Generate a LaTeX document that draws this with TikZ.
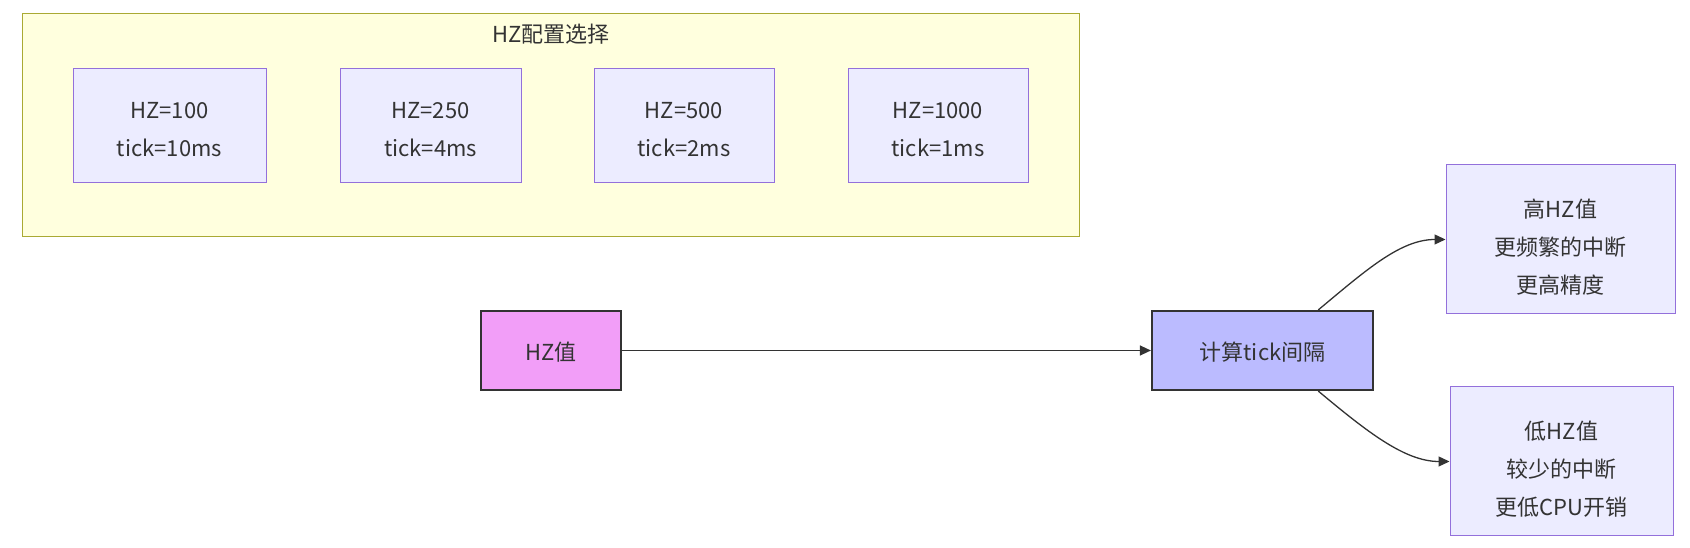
\documentclass[tikz,border=0pt]{standalone}
\usepackage{fontspec}
\setmainfont{Noto Sans CJK SC}
\usepackage{xcolor}
\usepackage{tikz}
\usetikzlibrary{calc, arrows.meta, positioning}
\definecolor{clusterfill}{HTML}{FFFFDE}
\definecolor{clusterline}{HTML}{AAAA33}
\definecolor{boxfill}{HTML}{ECECFF}
\definecolor{boxline}{HTML}{9370DB}
\definecolor{hzfill}{HTML}{F29EF8}
\definecolor{calcfill}{HTML}{BBBBFF}
\definecolor{darkline}{HTML}{333333}
\newcommand{\lift}[1]{\rule{0pt}{#1}}
\tikzset{
    clusternode/.style = {draw=clusterline, fill=clusterfill, rectangle, line width=1pt, inner sep=0pt},
    textnode/.style = {draw=none, fill=none, rectangle, inner sep=0pt, node distance=0pt,
      text=darkline, font=\fontsize{22pt}{38pt}\selectfont},
    boxnode/.style = {draw=boxline, fill=boxfill, rectangle, line width=1pt, inner sep=0pt,
      node distance=0pt, text=darkline, align=center, font=\fontsize{22pt}{38pt}\selectfont},
    keynode/.style = {draw=darkline, rectangle, line width=2.2pt, inner sep=0pt, node distance=0pt,
      minimum height=79pt, text=darkline, font=\fontsize{22pt}{38pt}\selectfont},
    connect/.style = {darkline, line width=1.3pt, -{Triangle[length=11pt, width=10pt]}}
}

\begin{document}
\begin{tikzpicture}
\useasboundingbox (0pt,0pt) rectangle (1690pt,548pt);

% HZ options
\node[clusternode, name=cluster, minimum width=1057pt, minimum height=223pt] at (551pt,422.5pt) {};
\node[textnode, name=title] at (551pt,513.5pt) {HZ配置选择};
\node[boxnode, name=hz100, minimum width=193pt, minimum height=114pt] at (169.5pt,422pt) {\lift{23pt}HZ=100\\tick=10ms};
\node[boxnode, name=hz250, right of=hz100, xshift=261pt, minimum width=181pt, minimum height=114pt] {\lift{23pt}HZ=250\\tick=4ms};
\node[boxnode, name=hz500, right of=hz250, xshift=253.5pt, minimum width=180pt, minimum height=114pt] {\lift{23pt}HZ=500\\tick=2ms};
\node[boxnode, name=hz1000, right of=hz500, xshift=254pt, minimum width=180pt, minimum height=114pt] {\lift{23pt}HZ=1000\\tick=1ms};

% flow
\node[keynode, name=hzval, fill=hzfill, minimum width=140pt] at (551pt,197.5pt) {\lift{22.5pt}HZ值};
\node[keynode, name=calc, fill=calcfill, right of=hzval, xshift=711.5pt, minimum width=221pt] {\lift{22.5pt}计算tick间隔};
\node[boxnode, name=high, minimum width=229pt, minimum height=149pt] at (1560.5pt,308.5pt) {\lift{33pt}高HZ值\\更频繁的中断\\更高精度};
\node[boxnode, name=low, minimum width=223pt, minimum height=149pt] at (1561.5pt,86.5pt) {\lift{33pt}低HZ值\\较少的中断\\更低CPU开销};

\draw[connect] (hzval.east) -- (calc.west);
\draw[connect] ($(calc.north)!0.5!(calc.north east)$) .. controls +(48pt,40pt) and +(-45pt,0pt) .. (high.west);
\draw[connect] ($(calc.south)!0.5!(calc.south east)$) .. controls +(48pt,-40pt) and +(-45pt,0pt) .. (low.west);
\end{tikzpicture}
\end{document}
